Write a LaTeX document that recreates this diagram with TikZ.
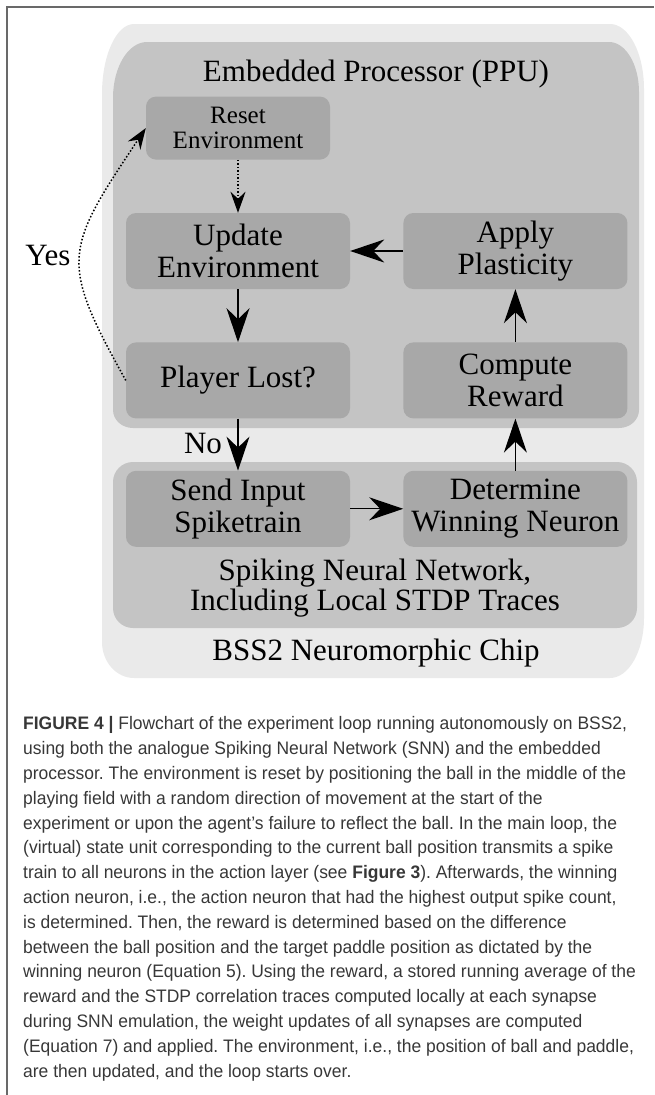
\documentclass[tikz,border=0pt]{standalone}
\usepackage{fontspec}
\setmainfont{Liberation Serif}
\newfontfamily\capfont[FakeStretch=0.965]{Liberation Sans}
\usepackage{xcolor}
\usepackage{tikz}
\usetikzlibrary{positioning,arrows.meta}

\definecolor{chipgray}{RGB}{234,234,234}
\definecolor{ppugray}{RGB}{196,196,196}
\definecolor{boxgray}{RGB}{168,168,168}
\definecolor{framegray}{RGB}{105,105,105}
\definecolor{capgray}{RGB}{55,55,55}

\begin{document}
\begin{tikzpicture}[
  x=1pt, y=1pt, node distance=53pt, >=Stealth,
  stepbox/.style={fill=boxgray, rounded corners=10pt, align=center, inner sep=0pt,
    minimum width=224pt, minimum height=76pt, font=\fontsize{31}{32}\selectfont},
  smallbox/.style={stepbox, minimum width=184pt, minimum height=63pt, font=\fontsize{25}{25}\selectfont},
  lbl/.style={anchor=base, inner sep=0pt, font=\fontsize{31}{32}\selectfont},
  arr/.style={-{Stealth[length=34pt, width=23pt, inset=11pt]}, line width=1.3pt},
  dotarr/.style={-{Stealth[length=21pt, width=15pt, inset=7pt]}, line width=1.5pt, dotted}]
  \useasboundingbox (0,0) rectangle (654,-1095);
  % page frame
  \draw[framegray, line width=1.2pt] (7,-1095) |- (654,-7);
  % chip, PPU and SNN areas
  \fill[chipgray] (102,-94) arc[start angle=180, end angle=90, x radius=32pt, y radius=70pt]
    -- (610,-24) arc[start angle=90, end angle=0, x radius=34pt, y radius=65pt]
    -- (644,-618) arc[start angle=0, end angle=-90, x radius=34pt, y radius=60pt]
    -- (134,-678) arc[start angle=270, end angle=180, x radius=32pt, y radius=36pt] -- cycle;
  \fill[ppugray] (113,-98) arc[start angle=180, end angle=90, x radius=34pt, y radius=56pt]
    -- (609,-42) arc[start angle=90, end angle=0, x radius=30pt, y radius=50pt]
    -- (639,-410) arc[start angle=0, end angle=-90, x radius=20pt, y radius=18pt]
    -- (133,-428) arc[start angle=270, end angle=180, x radius=20pt, y radius=18pt] -- cycle;
  \fill[ppugray, rounded corners=20pt] (113,-462) rectangle (637,-628);
  \node[lbl] (ppulabel) at (376,-81) {Embedded Processor (PPU)};
  \node[align=center, inner sep=0pt, font=\fontsize{31}{30}\selectfont] (snnlabel) at (375,-587.8)
    {Spiking Neural Network,\\Including Local STDP Traces};
  \node[lbl] (chiplabel) at (376,-660) {BSS2 Neuromorphic Chip};
  % steps
  \node[stepbox] (update) at (238,-251) {Update\\Environment};
  \node[stepbox, right=of update] (apply) {Apply\\Plasticity};
  \node[stepbox, below=of update] (lost) {Player Lost?};
  \node[stepbox, below=of apply] (reward) {Compute\\Reward};
  \node[stepbox, below=52pt of lost] (send) {Send Input\\Spiketrain};
  \node[stepbox, below=52pt of reward] (winner) {Determine\\Winning Neuron};
  \node[smallbox, above=of update] (reset) {Reset\\Environment};
  \node[lbl] (yes) at (48,-265) {Yes};
  \node[lbl] (no) at (203,-453) {No};
  \draw[dotarr] (reset) -- (update);
  \draw[arr] (update) -- (lost);
  \draw[arr] (lost) -- (send);
  \draw[arr] (send) -- (winner);
  \draw[arr] (winner) -- (reward);
  \draw[arr] (reward) -- (apply);
  \draw[arr] (apply) -- (update);
  \draw[dotarr] (lost.west) .. controls (59,-260.5) and (64,-250.5) .. (reset.west);
  % caption
  \node[anchor=north west, align=left, inner sep=0pt, text=capgray,
    font=\capfont\fontsize{18.1}{24.8}\selectfont\frenchspacing] (caption) at (23,-716.5)
    {\textbf{FIGURE 4 |} Flowchart of the experiment loop running autonomously on BSS2,\\
     using both the analogue Spiking Neural Network (SNN) and the embedded\\
     processor. The environment is reset by positioning the ball in the middle of the\\
     playing field with a random direction of movement at the start of the\\
     experiment or upon the agent’s failure to reflect the ball. In the main loop, the\\
     (virtual) state unit corresponding to the current ball position transmits a spike\\
     train to all neurons in the action layer (see \textbf{Figure 3}). Afterwards, the winning\\
     action neuron, i.e., the action neuron that had the highest output spike count,\\
     is determined. Then, the reward is determined based on the difference\\
     between the ball position and the target paddle position as dictated by the\\
     winning neuron (Equation 5). Using the reward, a stored running average of the\\
     reward and the STDP correlation traces computed locally at each synapse\\
     during SNN emulation, the weight updates of all synapses are computed\\
     (Equation 7) and applied. The environment, i.e., the position of ball and paddle,\\
     are then updated, and the loop starts over.};
\end{tikzpicture}
\end{document}
